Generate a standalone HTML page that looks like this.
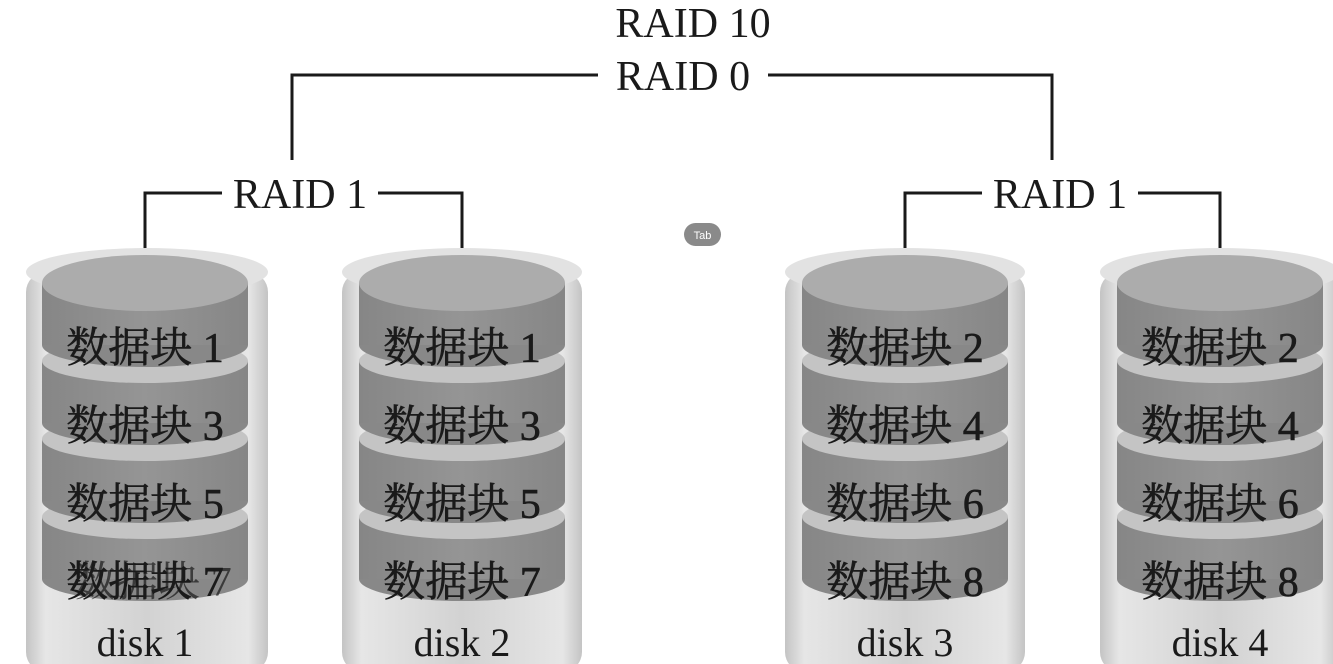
<!DOCTYPE html>
<html><head><meta charset="utf-8"><style>
html,body{margin:0;padding:0;background:#fff;}
svg{display:block;}
text{font-family:"Liberation Serif","Noto Serif CJK SC",serif;fill:#1a1a1a;}
</style></head><body>
<svg width="1333" height="664" viewBox="0 0 1333 664" xmlns="http://www.w3.org/2000/svg">
<defs>
<linearGradient id="og" x1="0" x2="1" y1="0" y2="0">
<stop offset="0" stop-color="#c4c4c4"/><stop offset="0.08" stop-color="#e6e6e6"/><stop offset="0.5" stop-color="#d2d2d2"/><stop offset="0.92" stop-color="#e6e6e6"/><stop offset="1" stop-color="#c4c4c4"/>
</linearGradient>
<linearGradient id="ig" x1="0" x2="1" y1="0" y2="0">
<stop offset="0" stop-color="#868686"/><stop offset="0.5" stop-color="#959595"/><stop offset="1" stop-color="#868686"/>
</linearGradient>
</defs>
<g stroke="#1a1a1a" stroke-width="3" fill="none">
<polyline points="598,75 292,75 292,160"/>
<polyline points="768,75 1052,75 1052,160"/>
<polyline points="222,193 145,193 145,282"/>
<polyline points="378,193 462,193 462,282"/>
<polyline points="982,193 905,193 905,282"/>
<polyline points="1138,193 1220,193 1220,282"/>
</g>
<text x="693" y="37" font-size="42" text-anchor="middle">RAID 10</text>
<text x="683" y="90" font-size="42" text-anchor="middle">RAID 0</text>
<text x="300" y="208" font-size="42" text-anchor="middle">RAID 1</text>
<text x="1060" y="208" font-size="42" text-anchor="middle">RAID 1</text>
<rect x="684" y="223" width="37" height="23" rx="11.5" fill="#8a8a8a"/>
<text x="702.5" y="239" font-size="11" text-anchor="middle" style="fill:#fff;font-family:'Liberation Sans',sans-serif">Tab</text>

<g>
<rect x="26" y="272" width="242" height="400" rx="20" fill="url(#og)"/>
<ellipse cx="147" cy="272" rx="121" ry="24" fill="#e2e2e2"/>
<rect x="342" y="272" width="240" height="400" rx="20" fill="url(#og)"/>
<ellipse cx="462" cy="272" rx="120" ry="24" fill="#e2e2e2"/>
<rect x="785" y="272" width="240" height="400" rx="20" fill="url(#og)"/>
<ellipse cx="905" cy="272" rx="120" ry="24" fill="#e2e2e2"/>
<rect x="1100" y="272" width="240" height="400" rx="20" fill="url(#og)"/>
<ellipse cx="1220" cy="272" rx="120" ry="24" fill="#e2e2e2"/>
</g>

<g id="segs"></g>

<text x="145" y="656" font-size="40" text-anchor="middle">disk 1</text>
<text x="462" y="656" font-size="40" text-anchor="middle">disk 2</text>
<text x="905" y="656" font-size="40" text-anchor="middle">disk 3</text>
<text x="1220" y="656" font-size="40" text-anchor="middle">disk 4</text>
</svg>
<script>
var ns="http://www.w3.org/2000/svg";
var g=document.getElementById("segs");
var disks=[[145,103,[1,3,5,7]],[462,103,[1,3,5,7]],[905,103,[2,4,6,8]],[1220,103,[2,4,6,8]]];
function el(t,a){var e=document.createElementNS(ns,t);for(var k in a)e.setAttribute(k,a[k]);g.appendChild(e);return e;}
disks.forEach(function(d,di){
 var c=d[0],w=d[1];
 for(var k=3;k>=0;k--){
  var T=283+78*k;
  el("ellipse",{cx:c,cy:T+62,rx:w,ry:22,fill:"#888"});
  el("rect",{x:c-w,y:T,width:2*w,height:62,fill:"url(#ig)"});
  el("ellipse",{cx:c,cy:T,rx:w,ry:k==0?28:22,fill:k==0?"#acacac":"#c4c4c4"});
 }
 for(var k=3;k>=0;k--){
  var T=283+78*k;
  var t=el("text",{x:c,y:T+79,"font-size":42,"text-anchor":"middle",stroke:"#1a1a1a","stroke-width":0.6});
  t.textContent="数据块 "+d[2][k];
  if(di==0&&k==3){var t2=el("text",{x:c+8,y:T+79,"font-size":42,"text-anchor":"middle",opacity:0.7});t2.textContent="数据块 7";}
 }
});
</script>
</body></html>
